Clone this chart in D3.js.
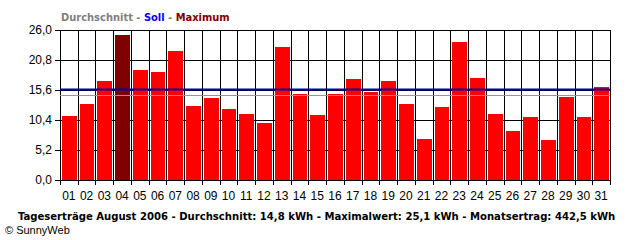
<!DOCTYPE html>
<html><head><meta charset="utf-8">
<script src="https://cdn.jsdelivr.net/npm/d3@7"></script>
<style>
html,body{margin:0;padding:0;background:#fff;}
svg{display:block;}
</style></head>
<body>
<svg id="c" width="640" height="240"></svg>
<script>
const days = ["01","02","03","04","05","06","07","08","09","10","11","12","13","14","15","16","17","18","19","20","21","22","23","24","25","26","27","28","29","30","31"];
const yields = [11.1,13.2,17.2,25.1,19.1,18.7,22.4,12.8,14.2,12.3,11.4,9.9,23.1,14.9,11.3,14.9,17.5,15.3,17.2,13.2,7.1,12.7,23.9,17.7,11.4,8.5,10.9,6.9,14.4,10.9,16.1];
const yTicks = [0, 5.2, 10.4, 15.6, 20.8, 26.0];
const average = 14.8;
const target = 15.7;
const legendParts = [["Durchschnitt","#808080"],[" - ","#808080"],["Soll","#0000ff"],[" - ","#808080"],["Maximum","#800000"]];
const footer = "Tageserträge August 2006 - Durchschnitt: 14,8 kWh - Maximalwert: 25,1 kWh - Monatsertrag: 442,5 kWh";
const copyright = "© SunnyWeb";

const svg = d3.select("#c");
const L = 60, R = 610, T = 30, B = 180;
const x = d3.scaleBand().domain(days).range([L, R]).padding(0);
const y = d3.scaleLinear().domain([0, 26]).range([B, T]);
const fmt = v => v.toFixed(1).replace(".", ",");
const narrow = "'Liberation Sans Narrow','Arial Narrow',Arial,sans-serif";
const cond = "'DejaVu Sans Condensed','DejaVu Sans',sans-serif";

function fitText(sel, width, base) {
  const w = sel.node().getComputedTextLength();
  if (w > 0) sel.attr("font-size", base * width / w);
}

const gy = svg.append("g").attr("transform", `translate(${L},0)`)
  .call(d3.axisLeft(y).tickValues(yTicks).tickFormat(fmt).tickSize(5).tickPadding(3));
gy.select(".domain").remove();
gy.selectAll("line").attr("stroke", "#000").attr("shape-rendering", "crispEdges");
gy.selectAll("text").attr("font-family", narrow).attr("font-size", 12).attr("fill", "#000");

svg.append("g").selectAll("line").data(yTicks).join("line")
  .attr("x1", L).attr("x2", R).attr("y1", d => Math.round(y(d)) + 0.5).attr("y2", d => Math.round(y(d)) + 0.5)
  .attr("stroke", "#000");

const bounds = days.map(d => x(d)).concat([R]);
svg.append("g").selectAll("line").data(bounds).join("line")
  .attr("x1", d => Math.round(d) + 0.5).attr("x2", d => Math.round(d) + 0.5)
  .attr("y1", T).attr("y2", B + 5).attr("stroke", "#000");

const maxV = d3.max(yields);
svg.append("g").selectAll("rect").data(yields).join("rect")
  .attr("x", (d, i) => Math.round(x(days[i])) + 2)
  .attr("width", (d, i) => Math.round(x(days[i]) + x.bandwidth()) - Math.round(x(days[i])) - 3)
  .attr("y", d => Math.round(y(d)))
  .attr("height", d => B - Math.round(y(d)))
  .attr("fill", d => d === maxV ? "#800000" : "#ff0000");

svg.append("line").attr("x1", L).attr("x2", R + 1).attr("y1", B + 0.5).attr("y2", B + 0.5).attr("stroke", "#000");

svg.append("line").attr("x1", L).attr("x2", R).attr("y1", Math.round(y(average)) + 0.5).attr("y2", Math.round(y(average)) + 0.5)
  .attr("stroke", "#959595").attr("stroke-width", 1);
svg.append("line").attr("x1", L).attr("x2", R).attr("y1", Math.round(y(target)) + 0.5).attr("y2", Math.round(y(target)) + 0.5)
  .attr("stroke", "#0000a8").attr("stroke-width", 2);

svg.append("g").selectAll("text").data(days).join("text")
  .attr("x", d => x(d) + x.bandwidth() / 2).attr("y", 200)
  .attr("text-anchor", "middle").attr("font-family", narrow).attr("font-size", 12)
  .text(d => d);

const lg = svg.append("text").attr("x", 61).attr("y", 21)
  .attr("font-family", cond).attr("font-weight", "bold").attr("font-size", 11);
legendParts.forEach(p => lg.append("tspan").attr("fill", p[1]).text(p[0]));
fitText(lg, 169, 11);

const ft = svg.append("text").attr("x", 18).attr("y", 220)
  .attr("font-family", cond).attr("font-weight", "bold").attr("font-size", 11)
  .text(footer);
fitText(ft, 598, 11);
svg.append("text").attr("x", 5).attr("y", 234)
  .attr("font-family", "Arial,'Liberation Sans',sans-serif").attr("font-size", 11).text(copyright);
</script>
</body></html>
